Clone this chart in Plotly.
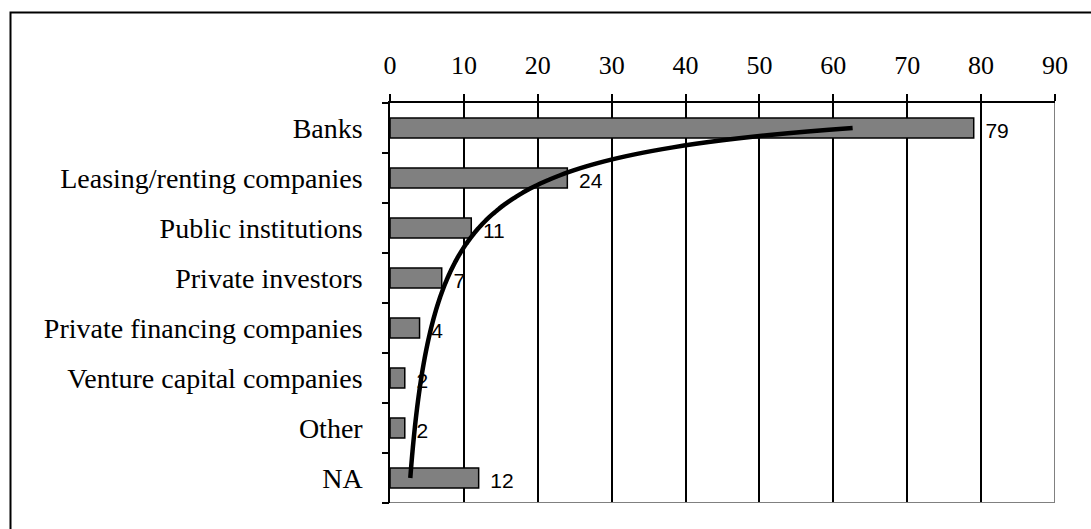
import numpy as np
import plotly.graph_objects as go

categories = ["Banks", "Leasing/renting companies", "Public institutions", "Private investors",
              "Private financing companies", "Venture capital companies", "Other", "NA"]
values = [79, 24, 11, 7, 4, 2, 2, 12]
x_ticks = [0, 10, 20, 30, 40, 50, 60, 70, 80, 90]

pos = np.arange(len(categories))

# Power trendline (Excel-style) fitted to the data
idx = pos + 1
b, ln_a = np.polyfit(np.log(idx), np.log(values), 1)
t = np.linspace(1, len(categories), 200)
trend = np.exp(ln_a) * t ** b

fig = go.Figure()
fig.add_trace(go.Bar(
    x=values, y=pos, orientation="h", width=0.4,
    marker=dict(color="#808080", line=dict(color="black", width=1.5)),
))
fig.add_trace(go.Scatter(
    x=trend, y=t - 1, mode="lines",
    line=dict(color="black", width=4.5, shape="spline"),
))
# value labels, slightly below bar centre as in the original
fig.add_trace(go.Scatter(
    x=values, y=pos + 0.1, mode="text", text=[f"  {v}" for v in values],
    textposition="middle right", cliponaxis=False,
    textfont=dict(family="Liberation Sans, Arial", size=21, color="black"),
))

yr = [len(categories) - 0.5, -0.5]
fig.update_layout(
    width=1091, height=529,
    margin=dict(l=390, r=36, t=103, b=26),
    paper_bgcolor="white", plot_bgcolor="white",
    showlegend=False,
    xaxis=dict(
        side="top", range=[0, 90], tickvals=x_ticks, ticktext=[str(v) for v in x_ticks],
        ticks="outside", ticklen=7, tickwidth=1.5, tickcolor="black",
        showline=True, linecolor="black", linewidth=1.5,
        showgrid=True, gridcolor="black", gridwidth=1.5, zeroline=False,
        tickfont=dict(family="Liberation Serif, Times New Roman", size=26, color="black"),
        ticklabelstandoff=10,
    ),
    yaxis=dict(
        range=yr, tickvals=list(pos), ticktext=categories, ticks="",
        showline=True, linecolor="black", linewidth=1.5, showgrid=False, zeroline=False,
        tickfont=dict(family="Liberation Serif, Times New Roman", size=28, color="black"),
        ticklabelstandoff=20,
    ),
    yaxis2=dict(
        overlaying="y", side="left", range=yr,
        tickvals=[p - 0.5 for p in range(len(categories) + 1)],
        ticks="outside", ticklen=7, tickwidth=1.5, tickcolor="black",
        showticklabels=False, showgrid=False, zeroline=False, showline=False,
    ),
    shapes=[
        dict(type="line", xref="x", yref="paper", x0=90, x1=90, y0=0, y1=1,
             line=dict(color="#808080", width=2), layer="above"),
        dict(type="line", xref="paper", yref="y", x0=0, x1=1, y0=yr[0], y1=yr[0],
             line=dict(color="#808080", width=2), layer="above"),
        dict(type="rect", xref="paper", yref="paper",
             x0=(10.5 - 390) / 665, x1=(1100 - 390) / 665,
             y0=(503 - 540) / 400, y1=(503 - 12.5) / 400,
             line=dict(color="black", width=2), fillcolor="rgba(0,0,0,0)"),
    ],
)
# dummy trace to activate yaxis2 ticks
fig.add_trace(go.Scatter(x=[None], y=[None], yaxis="y2", showlegend=False))

fig.write_html("out.html")
